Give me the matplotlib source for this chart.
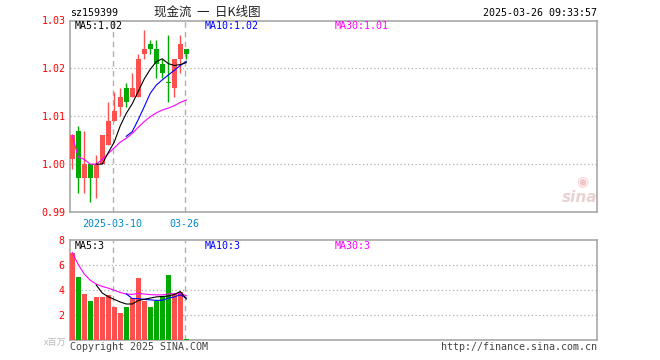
import matplotlib
matplotlib.use("Agg")
import matplotlib.pyplot as plt
import numpy as np

# daily K data of sz159399
dates = ["2025-02-27", "2025-02-28", "2025-03-03", "2025-03-04", "2025-03-05",
         "2025-03-06", "2025-03-07", "2025-03-10", "2025-03-11", "2025-03-12",
         "2025-03-13", "2025-03-14", "2025-03-17", "2025-03-18", "2025-03-19",
         "2025-03-20", "2025-03-21", "2025-03-24", "2025-03-25", "2025-03-26"]
opens = [1.001, 1.007, 0.997, 1.000, 0.997, 1.000, 1.004, 1.009, 1.012, 1.016,
         1.014, 1.014, 1.023, 1.025, 1.024, 1.021, 1.0172, 1.016, 1.022, 1.024]
highs = [1.0062, 1.008, 1.007, 1.000, 1.002, 1.006, 1.013, 1.015, 1.016, 1.017,
         1.019, 1.023, 1.028, 1.026, 1.026, 1.022, 1.027, 1.022, 1.027, 1.024]
lows = [0.999, 0.994, 0.994, 0.992, 0.993, 1.000, 1.004, 1.009, 1.010, 1.012,
        1.014, 1.014, 1.022, 1.023, 1.018, 1.018, 1.013, 1.014, 1.019, 1.022]
closes = [1.006, 0.997, 1.000, 0.997, 1.000, 1.006, 1.009, 1.011, 1.014, 1.013,
          1.016, 1.022, 1.024, 1.024, 1.021, 1.019, 1.0170, 1.022, 1.025, 1.023]
# volume, millions
volumes = [7.0, 5.07, 3.71, 3.12, 3.44, 3.44, 3.6, 2.64, 2.19, 2.64,
           3.36, 4.99, 3.12, 2.64, 3.12, 3.52, 5.2, 3.7, 3.85, 0.1]

# moving average lines as drawn (start index, values)
ma5_start = 4
ma5 = [1.0000, 1.0000, 1.0024, 1.0046, 1.0080, 1.0106, 1.0126, 1.0152,
       1.0178, 1.0198, 1.0214, 1.0220, 1.0210, 1.0206, 1.0208, 1.0212]
ma10_start = 9
ma10 = [1.0058, 1.0068, 1.0093, 1.0120, 1.0148, 1.0165, 1.0176, 1.0186,
        1.0196, 1.0206, 1.0215]
ma30_start = 0
ma30 = [1.0060, 1.0015, 1.0010, 1.0000, 1.0000, 1.0010, 1.0022, 1.0034,
        1.0046, 1.0054, 1.0064, 1.0077, 1.0089, 1.0099, 1.0107, 1.0113,
        1.0117, 1.0122, 1.0129, 1.0134]
vma5_start = 4
vma5 = [4.40, 3.76, 3.46, 3.25, 3.04, 2.88, 2.88, 3.16, 3.26, 3.35,
        3.45, 3.48, 3.52, 3.64, 3.88, 3.28]
vma10_start = 9
vma10 = [3.69, 3.32, 3.31, 3.25, 3.21, 3.17, 3.18, 3.34, 3.45, 3.61, 3.36]
vma30_start = 0
vma30 = [7.0, 6.04, 5.28, 4.78, 4.47, 4.28, 4.15, 3.98, 3.80, 3.68,
         3.65, 3.72, 3.68, 3.63, 3.61, 3.61, 3.69, 3.70, 3.72, 3.55]

price_ticks = [0.99, 1.00, 1.01, 1.02, 1.03]
vol_ticks = [2, 4, 6, 8]
mark_idx = [7, 19]
mark_labels = ["2025-03-10", "03-26"]

RED = "#ff5050"
GREEN = "#00aa00"
BORDER = "#a0a0a0"
GRID = "#b0b0b0"
MONO = "DejaVu Sans Mono"
CJK = ["Noto Sans CJK SC", "DejaVu Sans"]

W, H = 660, 360
fig = plt.figure(figsize=(6.6, 3.6), dpi=100)
ax = fig.add_axes([70 / W, 1 - 212 / H, 527 / W, 191.5 / H])
axv = fig.add_axes([70 / W, 1 - 340 / H, 527 / W, 100 / H])

x = np.arange(len(closes))
up = np.array(closes) >= np.array(opens)
colors = [RED if u else GREEN for u in up]
o = np.array(opens)
c = np.array(closes)
body_lo = np.minimum(o, c)
body_h = np.maximum(np.abs(c - o), 0.00025)

for a in (ax, axv):
    a.set_xlim(-0.37, 87.42)
    for s in a.spines.values():
        s.set_color(BORDER)
        s.set_linewidth(1.1)
    a.tick_params(length=0, colors="red", labelsize=7.2)
    for xm in mark_idx:
        a.axvline(xm - 0.28, color=GRID, lw=1.0, ls=(0, (4, 3)), zorder=1)

# price panel
ax.set_ylim(0.99, 1.03)
for yv in price_ticks[1:-1]:
    ax.axhline(yv, color=GRID, lw=0.9, ls=(0, (1, 2)), zorder=1)
ax.vlines(x, lows, highs, colors=colors, lw=1.0, zorder=3)
ax.bar(x, body_h, bottom=body_lo, width=0.84, color=colors, zorder=4)
ax.plot(np.arange(ma30_start, ma30_start + len(ma30)), ma30, color="#ff00ff", lw=0.8, zorder=5)
ax.plot(np.arange(ma10_start, ma10_start + len(ma10)), ma10, color="#0000ff", lw=0.8, zorder=5)
ax.plot(np.arange(ma5_start, ma5_start + len(ma5)), ma5, color="black", lw=0.8, zorder=5)
ax.set_yticks(price_ticks)
ax.set_yticklabels(["%.2f" % t for t in price_ticks], family=MONO, color="red")
ax.set_xticks([m - 0.28 for m in mark_idx])
ax.set_xticklabels(mark_labels, family=MONO, color="#0088d0", fontsize=7.2)
ax.tick_params(axis="y", pad=3)
ax.tick_params(axis="x", pad=5, colors="#0088d0")

# volume panel
axv.set_ylim(0, 8)
for yv in vol_ticks[:-1]:
    axv.axhline(yv, color=GRID, lw=0.9, ls=(0, (1, 2)), zorder=1)
axv.bar(x, volumes, width=0.84, color=colors, zorder=3)
axv.plot(np.arange(vma30_start, vma30_start + len(vma30)), vma30, color="#ff00ff", lw=0.8, zorder=5)
axv.plot(np.arange(vma10_start, vma10_start + len(vma10)), vma10, color="#0000ff", lw=0.8, zorder=5)
axv.plot(np.arange(vma5_start, vma5_start + len(vma5)), vma5, color="black", lw=0.8, zorder=5)
axv.set_yticks(vol_ticks)
axv.set_yticklabels([str(t) for t in vol_ticks], family=MONO, color="red")
axv.set_xticks([])
axv.tick_params(axis="y", pad=4)


def put(px, py, s, **kw):
    kw.setdefault("family", MONO)
    kw.setdefault("fontsize", 7.2)
    fig.text(px / W, 1 - py / H, s, va="center", **kw)


put(70, 13, "sz159399", color="black")
put(207, 12, "现金流  一  日K线图", family=CJK, fontsize=9, ha="center", color="#222222")
put(597, 13, "2025-03-26 09:33:57", ha="right", color="black")

put(75, 26, "MA5:1.02", color="black")
put(205, 26, "MA10:1.02", color="#0000ff")
put(335, 26, "MA30:1.01", color="#ff00ff")
put(75, 246, "MA5:3", color="black")
put(205, 246, "MA10:3", color="#0000ff")
put(335, 246, "MA30:3", color="#ff00ff")

put(66, 342, "x百万", family=CJK, fontsize=6.5, ha="right", color="#bbbbbb")
put(70, 347, "Copyright 2025 SINA.COM", color="#444444")
put(597, 347, "http://finance.sina.com.cn", ha="right", color="#444444")

# faint sina watermark
put(597, 197, "sina", family="DejaVu Sans", fontsize=11, ha="right",
    color="#e8d2d2", style="italic", weight="bold")
put(582, 181, "◉", family="DejaVu Sans", fontsize=10, ha="center", color="#f3c6c6")

fig.savefig("out.png", dpi=100)
